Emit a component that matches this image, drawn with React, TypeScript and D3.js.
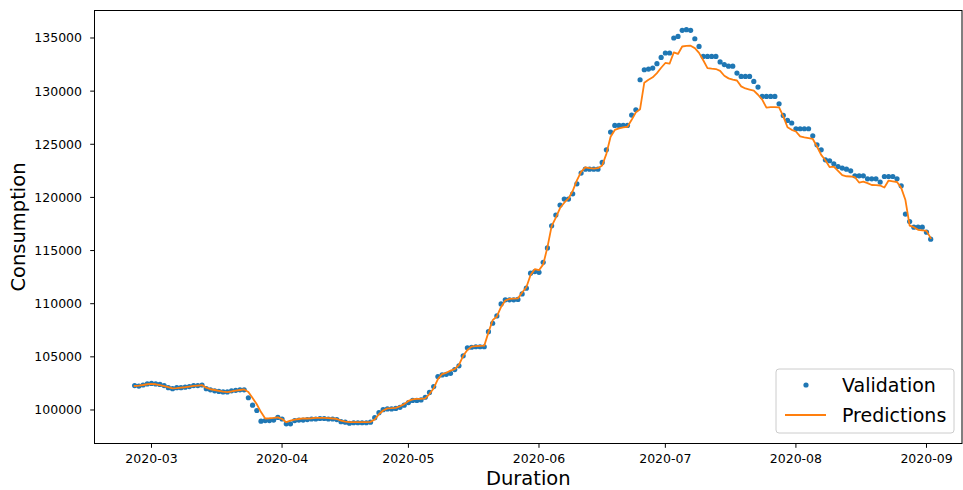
import React from "react";
import * as d3 from "d3";

const startDate = "2020-02-26";

const validation: number[] = [
  102300, 102250, 102350, 102450, 102500,
  102450, 102400, 102300, 102100, 102000,
  102100, 102100, 102150, 102200, 102300,
  102300, 102350, 102000, 101900, 101800,
  101750, 101700, 101700, 101800, 101850,
  101900, 101900, 101150, 100450, 99950,
  98950, 99000, 99000, 99050, 99300,
  99150, 98700, 98700, 99000, 99050,
  99050, 99100, 99150, 99150, 99200,
  99200, 99150, 99150, 99100, 98900,
  98850, 98750, 98800, 98800, 98800,
  98800, 98850, 99280, 99750, 100030,
  100100, 100100, 100150, 100250, 100450,
  100700, 100900, 100900, 100950, 101200,
  101650, 102200, 103150, 103300, 103350,
  103450, 103800, 104150, 105100, 105850,
  105900, 105950, 105950, 105950, 107370,
  108160, 108850, 109980, 110360, 110360,
  110360, 110400, 110920, 111460, 112870,
  113020, 112950, 113900, 115250, 117330,
  118340, 119280, 119840, 119840, 120340,
  121280, 122290, 122660, 122660, 122660,
  122660, 123290, 124480, 126150, 126770,
  126770, 126770, 126770, 127750, 128250,
  131070, 132010, 132080, 132170, 132580,
  133170, 133590, 133590, 135000, 135150,
  135720, 135780, 135720, 134930, 134210,
  133270, 133270, 133270, 133270, 132750,
  132500, 132350, 132350, 131700, 131380,
  131380, 131380, 130910, 130380, 129500,
  129500, 129500, 129500, 128810, 127710,
  127240, 127000, 126460, 126460, 126460,
  126460, 125800, 124950, 124480, 123540,
  123450, 123160, 122910, 122760, 122660,
  122500, 122030, 122030, 122030, 121750,
  121750, 121750, 121440, 121970, 121970,
  121970, 121750, 121090, 118430, 117730,
  117200, 117200, 117200, 116730, 116070,
];

const predictions: number[] = [
  102260, 102300, 102350, 102420, 102450,
  102420, 102330, 102250, 102150, 102030,
  102050, 102100, 102140, 102200, 102260,
  102300, 102340, 102100, 101950, 101880,
  101800, 101720, 101680, 101740, 101820,
  101880, 101930, 101700, 101130, 100540,
  99800, 99200, 99220, 99250, 99300,
  99150, 98850, 99000, 99100, 99150,
  99200, 99200, 99220, 99250, 99250,
  99250, 99230, 99200, 99150, 99000,
  98900, 98850, 98850, 98850, 98850,
  98850, 98880, 99100, 99600, 99950,
  100150, 100170, 100200, 100350, 100550,
  100850, 101000, 101040, 101040, 101100,
  101500, 102050, 102900, 103380, 103500,
  103700, 103850, 104250, 105100, 105650,
  105960, 106000, 106030, 106050, 107300,
  108450, 108800, 109700, 110300, 110450,
  110480, 110500, 111050, 111550, 112700,
  113250, 113150, 113700, 115300, 117300,
  118100, 119000, 119500, 119900, 120600,
  121600, 122400, 122820, 122750, 122700,
  122750, 123000, 124100, 125700, 126350,
  126500, 126600, 126650, 127300, 128000,
  128300, 130800, 131070, 131300, 131700,
  132200, 132650, 132580, 133650, 133500,
  134200, 134250, 134270, 134050, 133600,
  132900, 132170, 132120, 132080, 131900,
  131450, 131200, 131080, 131000, 130450,
  130250, 130150, 130050, 129660, 129200,
  128450, 128500, 128500, 128480, 127620,
  126600, 126360, 126200, 125740, 125650,
  125580, 125500, 124790, 124000, 123500,
  122850, 122900, 122500, 122100, 121990,
  121970, 121900, 121400, 121480, 121350,
  121170, 121150, 121120, 120930, 121590,
  121520, 121450, 120900, 119750, 117350,
  117200, 116950, 116900, 116850, 116170,
];

const yTicks: number[] = [100000, 105000, 110000, 115000, 120000, 125000, 130000, 135000];
const xTickStart = "2020-03-01";
const xTickEnd = "2020-09-01";
const seriesLabels: string[] = ["Validation", "Predictions"];
const xTitle = "Duration";
const yTitle = "Consumption";

const BLUE = "#1f77b4";
const ORANGE = "#ff7f0e";
const FONT = "DejaVu Sans, sans-serif";

export default function App() {
  const W = 963;
  const H = 490;
  const left = 94.5;
  const right = 962;
  const top = 10.5;
  const bottom = 443.5;

  const start = new Date(startDate + "T00:00:00Z");
  const dates = validation.map((_, i) => d3.utcDay.offset(start, i));
  const dayMs = 864e5;
  const x = d3
    .scaleTime()
    .domain([
      new Date(+dates[0] - 9.53 * dayMs),
      new Date(+dates[dates.length - 1] + 7.43 * dayMs),
    ])
    .range([left, right]);

  const all = validation.concat(predictions);
  const mn = d3.min(all) as number;
  const mx = d3.max(all) as number;
  const pad = (mx - mn) * 0.05;
  const y = d3.scaleLinear().domain([mn - pad, mx + pad]).range([bottom, top - 0.5]);

  const line = d3
    .line<number>()
    .x((_, i) => x(dates[i]))
    .y((d) => y(d));

  const xTicks = d3.utcMonth.range(
    new Date(xTickStart + "T00:00:00Z"),
    d3.utcDay.offset(new Date(xTickEnd + "T00:00:00Z"), 1)
  );
  const fmt = d3.utcFormat("%Y-%m");

  const legX = 776;
  const legY = 369;
  const legW = 178;
  const legH = 64;

  return (
    <svg
      width={W}
      height={H}
      style={{ position: "absolute", left: 0, top: 0, background: "#fff" }}
      fontFamily={FONT}
    >
      <rect x={0} y={0} width={W} height={H} fill="#fff" />
      {/* validation dots */}
      <g fill={BLUE}>
        {validation.map((v, i) => (
          <circle key={i} cx={x(dates[i])} cy={y(v)} r={2.6} />
        ))}
      </g>
      {/* predictions line */}
      <path d={line(predictions) || ""} fill="none" stroke={ORANGE} strokeWidth={1.8} strokeLinejoin="round" strokeLinecap="square" />

      {/* frame */}
      <rect x={left} y={top} width={right - left} height={bottom - top} fill="none" stroke="#000" strokeWidth={1} />

      {/* y ticks */}
      {yTicks.map((t) => (
        <g key={t}>
          <line x1={left - 4.3} x2={left} y1={y(t)} y2={y(t)} stroke="#000" strokeWidth={1} />
          <text x={left - 12.5} y={y(t)} dy="0.36em" textAnchor="end" fontSize={12.5} fill="#000">
            {t}
          </text>
        </g>
      ))}

      {/* x ticks */}
      {xTicks.map((t) => (
        <g key={+t}>
          <line x1={x(t)} x2={x(t)} y1={bottom} y2={bottom + 4.3} stroke="#000" strokeWidth={1} />
          <text x={x(t)} y={bottom + 19.5} textAnchor="middle" fontSize={12.5} fill="#000">
            {fmt(t)}
          </text>
        </g>
      ))}

      {/* axis titles */}
      <text x={(left + right) / 2} y={485} textAnchor="middle" fontSize={19.5} fill="#000">
        {xTitle}
      </text>
      <text
        transform={`translate(25,${(top + bottom) / 2}) rotate(-90)`}
        textAnchor="middle"
        fontSize={19.5}
        fill="#000"
      >
        {yTitle}
      </text>

      {/* legend */}
      <rect x={legX} y={legY} width={legW} height={legH} rx={3} fill="#fff" fillOpacity={0.8} stroke="#ccc" strokeWidth={1} />
      <circle cx={legX + 30} cy={legY + 16} r={2.6} fill={BLUE} />
      <text x={legX + 66} y={legY + 16} dy="0.36em" fontSize={19} fill="#000">
        {seriesLabels[0]}
      </text>
      <line x1={legX + 9} x2={legX + 50} y1={legY + 46} y2={legY + 46} stroke={ORANGE} strokeWidth={1.8} />
      <text x={legX + 66} y={legY + 46} dy="0.36em" fontSize={19} fill="#000">
        {seriesLabels[1]}
      </text>
    </svg>
  );
}
